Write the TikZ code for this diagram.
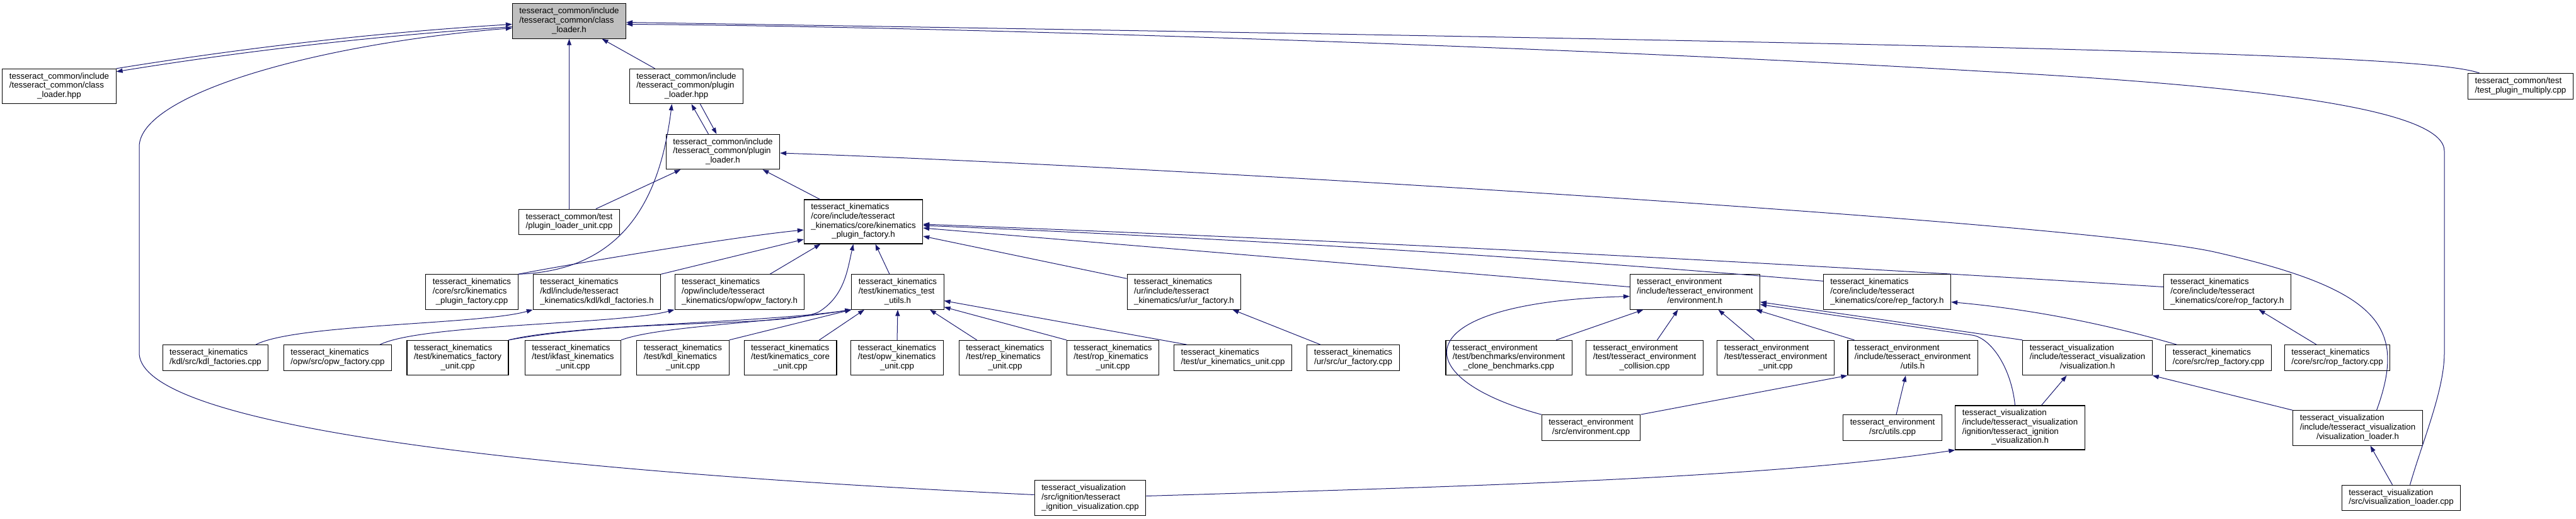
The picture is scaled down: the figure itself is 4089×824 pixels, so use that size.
\documentclass[tikz,border=0pt]{standalone}
\usepackage{fontspec}
\setmainfont{Liberation Sans}
\usepackage{tikz}
\usetikzlibrary{arrows.meta,calc}
\definecolor{azulnoche}{HTML}{191970}
\definecolor{grisraiz}{HTML}{BFBFBF}
\newcommand{\etiq}[2]{\begin{tabular}{@{}l@{}}#1\\\multicolumn{1}{@{}c@{}}{#2}\end{tabular}}
\tikzset{
  archivo/.style={draw=black,fill=white,line width=1.1pt,inner xsep=11pt,inner ysep=5.6pt,font=\fontsize{13.3}{14.7}\selectfont},
  raiz/.style={archivo,fill=grisraiz},
  incluye/.style={draw=azulnoche,line width=1pt,-{Triangle[length=10pt,width=7pt]}},
}
\begin{document}
\begin{tikzpicture}[x=1pt,y=-1pt]
  \useasboundingbox (0,0) rectangle (4089,824);
  \node[raiz] (clh) at (903.5,33.5) {\etiq{tesseract\_common/include\\/tesseract\_common/class}{\_loader.h}};
  \node[archivo] (clhpp) at (94,137) {\etiq{tesseract\_common/include\\/tesseract\_common/class}{\_loader.hpp}};
  \node[archivo] (plhpp) at (1089.5,137) {\etiq{tesseract\_common/include\\/tesseract\_common/plugin}{\_loader.hpp}};
  \node[archivo] (plh) at (1147.5,241) {\etiq{tesseract\_common/include\\/tesseract\_common/plugin}{\_loader.h}};
  \node[archivo] (plunit) at (903.5,352.5) {\etiq{tesseract\_common/test}{/plugin\_loader\_unit.cpp}};
  \node[archivo] (testmult) at (4001,137) {\etiq{tesseract\_common/test}{/test\_plugin\_multiply.cpp}};
  \node[archivo] (kpfh) at (1370.5,352) {\etiq{tesseract\_kinematics\\/core/include/tesseract\\\_kinematics/core/kinematics}{\_plugin\_factory.h}};
  \node[archivo] (kpfcpp) at (749,463.5) {\etiq{tesseract\_kinematics\\/core/src/kinematics}{\_plugin\_factory.cpp}};
  \node[archivo] (kdlh) at (947.5,463.5) {\etiq{tesseract\_kinematics\\/kdl/include/tesseract}{\_kinematics/kdl/kdl\_factories.h}};
  \node[archivo] (opwh) at (1174,463.5) {\etiq{tesseract\_kinematics\\/opw/include/tesseract}{\_kinematics/opw/opw\_factory.h}};
  \node[archivo] (tuh) at (1425,463.5) {\etiq{tesseract\_kinematics\\/test/kinematics\_test}{\_utils.h}};
  \node[archivo] (urh) at (1879.5,463.5) {\etiq{tesseract\_kinematics\\/ur/include/tesseract}{\_kinematics/ur/ur\_factory.h}};
  \node[archivo] (envh) at (2690.5,463.5) {\etiq{tesseract\_environment\\/include/tesseract\_environment}{/environment.h}};
  \node[archivo] (reph) at (2995.5,463.5) {\etiq{tesseract\_kinematics\\/core/include/tesseract}{\_kinematics/core/rep\_factory.h}};
  \node[archivo] (roph) at (3535.5,463.5) {\etiq{tesseract\_kinematics\\/core/include/tesseract}{\_kinematics/core/rop\_factory.h}};
  \node[archivo] (kdlcpp) at (342,568) {\etiq{tesseract\_kinematics}{/kdl/src/kdl\_factories.cpp}};
  \node[archivo] (opwcpp) at (536,568) {\etiq{tesseract\_kinematics}{/opw/src/opw\_factory.cpp}};
  \node[archivo] (kfu) at (726.5,568) {\etiq{tesseract\_kinematics\\/test/kinematics\_factory}{\_unit.cpp}};
  \node[archivo] (ikfu) at (909.5,568) {\etiq{tesseract\_kinematics\\/test/ikfast\_kinematics}{\_unit.cpp}};
  \node[archivo] (kdlu) at (1084,568) {\etiq{tesseract\_kinematics\\/test/kdl\_kinematics}{\_unit.cpp}};
  \node[archivo] (coreu) at (1254.5,568) {\etiq{tesseract\_kinematics\\/test/kinematics\_core}{\_unit.cpp}};
  \node[archivo] (opwu) at (1424,568) {\etiq{tesseract\_kinematics\\/test/opw\_kinematics}{\_unit.cpp}};
  \node[archivo] (repu) at (1595.5,568) {\etiq{tesseract\_kinematics\\/test/rep\_kinematics}{\_unit.cpp}};
  \node[archivo] (ropu) at (1766.5,568) {\etiq{tesseract\_kinematics\\/test/rop\_kinematics}{\_unit.cpp}};
  \node[archivo] (uru) at (1957,568) {\etiq{tesseract\_kinematics}{/test/ur\_kinematics\_unit.cpp}};
  \node[archivo] (urcpp) at (2148,568) {\etiq{tesseract\_kinematics}{/ur/src/ur\_factory.cpp}};
  \node[archivo] (clone) at (2395,568) {\etiq{tesseract\_environment\\/test/benchmarks/environment}{\_clone\_benchmarks.cpp}};
  \node[archivo] (coll) at (2610.5,568) {\etiq{tesseract\_environment\\/test/tesseract\_environment}{\_collision.cpp}};
  \node[archivo] (envu) at (2818.5,568) {\etiq{tesseract\_environment\\/test/tesseract\_environment}{\_unit.cpp}};
  \node[archivo] (utilsh) at (3036,568) {\etiq{tesseract\_environment\\/include/tesseract\_environment}{/utils.h}};
  \node[archivo] (vish) at (3313.5,568) {\etiq{tesseract\_visualization\\/include/tesseract\_visualization}{/visualization.h}};
  \node[archivo] (repcpp) at (3521.5,568) {\etiq{tesseract\_kinematics}{/core/src/rep\_factory.cpp}};
  \node[archivo] (ropcpp) at (3710,568) {\etiq{tesseract\_kinematics}{/core/src/rop\_factory.cpp}};
  \node[archivo] (envcpp) at (2525.5,679) {\etiq{tesseract\_environment}{/src/environment.cpp}};
  \node[archivo] (utilscpp) at (3004,679) {\etiq{tesseract\_environment}{/src/utils.cpp}};
  \node[archivo] (ignh) at (3206.5,679) {\etiq{tesseract\_visualization\\/include/tesseract\_visualization\\/ignition/tesseract\_ignition}{\_visualization.h}};
  \node[archivo] (vislh) at (3742.5,679.5) {\etiq{tesseract\_visualization\\/include/tesseract\_visualization}{/visualization\_loader.h}};
  \node[archivo] (igncpp) at (1730.5,790.5) {\etiq{tesseract\_visualization\\/src/ignition/tesseract}{\_ignition\_visualization.cpp}};
  \node[archivo] (vislcpp) at (3811.5,790.5) {\etiq{tesseract\_visualization}{/src/visualization\_loader.cpp}};

  \draw[incluye] (clhpp.north east) .. controls +(210,-34) and +(-210,13) .. ($(clh.west)+(0,5)$);
  \draw[incluye] ($(clh.west)+(0,9)$) .. controls +(-210,14) and +(210,-34) .. ($(clhpp.north east)+(0,5)$);
  \draw[incluye] ($(plhpp.north)+(-50,0)$) -- ($(clh.south)+(52,0)$);
  \draw[incluye] (plunit.north) -- (clh.south);
  \draw[incluye] ($(plh.north)+(-23,0)$) -- ($(plhpp.south)+(8,0)$);
  \draw[incluye] ($(plhpp.south)+(22,0)$) -- ($(plh.north)+(-10,0)$);
  \draw[incluye] (kpfcpp.north east) .. controls +(178,-6) and +(-17,135) .. ($(plhpp.south)+(-23,0)$);
  \draw[incluye] ($(plunit.north east)+(-38,0)$) -- ($(plh.south)+(-67,0)$);
  \draw[incluye] ($(kpfh.north)+(-69,0)$) -- ($(plh.south)+(63,0)$);
  \draw[incluye] ($(vislh.north)+(30,0)$) .. controls +(48,-132) and (3780,460) .. (3515,400) .. controls (3300,352) and (1800,262) .. ($(plh.east)+(0,2)$);
  \draw[incluye] ($(testmult.north)+(-65,0)$) .. controls (3860,88) and (3300,72) .. ($(clh.east)+(0,2)$);
  \draw[incluye] ($(vislcpp.north)+(14,0)$) .. controls +(20,-70) and +(0,60) .. (3880,560) -- (3880,240) .. controls +(0,-60) and (3650,140) .. (3143,113) .. controls (2500,75) and (1500,42) .. ($(clh.east)+(0,5)$);
  \draw[incluye] ($(igncpp.west)+(0,-5)$) .. controls (1100,760) and (221,700) .. (221,560) -- (221,233) .. controls (221,150) and (500,70) .. ($(clh.west)+(0,11)$);
  \draw[incluye] (kpfcpp.north east) .. controls +(60,-12) and +(-120,12) .. ($(kpfh.west)+(0,13)$);
  \draw[incluye] (kdlh.north east) -- ($(kpfh.west)+(0,28)$);
  \draw[incluye] ($(opwh.north)+(48,0)$) -- ($(kpfh.south)+(-68,0)$);
  \draw[incluye] ($(tuh.north)+(-13,0)$) -- ($(kpfh.south)+(19,0)$);
  \draw[incluye] (kfu.north east) .. controls (1000,505) and (1250,520) .. (1300,495) .. controls (1340,470) and (1345,430) .. ($(kpfh.south)+(-16,0)$);
  \draw[incluye] ($(urh.north west)+(0,7)$) -- ($(kpfh.east)+(0,23)$);
  \draw[incluye] ($(envh.west)+(0,-8)$) -- ($(kpfh.east)+(0,10)$);
  \draw[incluye] ($(reph.north west)+(0,11)$) .. controls +(-477,-40) and +(477,20) .. ($(kpfh.east)+(0,6)$);
  \draw[incluye] ($(roph.west)+(0,-8)$) .. controls +(-657,-41) and +(657,25) .. ($(kpfh.east)+(0,4)$);
  \draw[incluye] ($(kdlcpp.north)+(64,0)$) .. controls +(64,-33) and +(-85,24) .. (kdlh.south west);
  \draw[incluye] ($(opwcpp.north)+(67,0)$) .. controls +(67,-33) and +(-90,24) .. (opwh.south west);
  \draw[incluye] (kfu.north east) .. controls +(100,-25) and +(-150,22) .. (tuh.south west);
  \draw[incluye] (ikfu.north east) .. controls +(60,-22) and +(-140,22) .. (tuh.south west);
  \draw[incluye] (kdlu.north east) -- (tuh.south west);
  \draw[incluye] ($(coreu.north east)+(-28,0)$) -- ($(tuh.south)+(-53,0)$);
  \draw[incluye] (opwu.north) -- (tuh.south);
  \draw[incluye] ($(repu.north)+(-45,0)$) -- ($(tuh.south)+(51,0)$);
  \draw[incluye] (ropu.north west) -- ($(tuh.east)+(0,24)$);
  \draw[incluye] ($(uru.north west)+(21,0)$) -- ($(tuh.east)+(0,14)$);
  \draw[incluye] ($(urcpp.north)+(-52,0)$) -- ($(urh.south)+(77,0)$);
  \draw[incluye] (envcpp.north west) .. controls +(-218,-59) and +(-359,10) .. ($(envh.west)+(0,7)$);
  \draw[incluye] (envcpp.north east) -- (utilsh.south west);
  \draw[incluye] ($(clone.north)+(75,0)$) -- ($(envh.south)+(-82,0)$);
  \draw[incluye] ($(coll.north)+(20,0)$) -- ($(envh.south)+(-27,0)$);
  \draw[incluye] ($(envu.north)+(-34,0)$) -- ($(envh.south)+(37,0)$);
  \draw[incluye] ($(utilsh.north west)+(11,0)$) -- ($(envh.south east)+(-7,0)$);
  \draw[incluye] (vish.north west) -- ($(envh.east)+(0,16)$);
  \draw[incluye] ($(ignh.north)+(-8,0)$) .. controls +(-6,-60) and +(30,4) .. (3130,532) -- ($(envh.east)+(0,20)$);
  \draw[incluye] ($(utilscpp.north)+(6,0)$) -- ($(utilsh.south)+(-11,0)$);
  \draw[incluye] ($(ignh.north)+(34,0)$) -- ($(vish.south)+(-33,0)$);
  \draw[incluye] (vislh.north west) -- (vish.south east);
  \draw[incluye] ($(repcpp.north west)+(18,0)$) .. controls +(-121,-35) and +(121,11) .. ($(reph.east)+(0,16)$);
  \draw[incluye] ($(ropcpp.north)+(-33,0)$) -- ($(roph.south)+(50,0)$);
  \draw[incluye] ($(vislcpp.north)+(-14,0)$) -- ($(vislh.south)+(20,0)$);
  \draw[incluye] ($(igncpp.east)+(0,-3)$) .. controls +(500,-15) and +(-300,45) .. (ignh.south west);
\end{tikzpicture}
\end{document}
